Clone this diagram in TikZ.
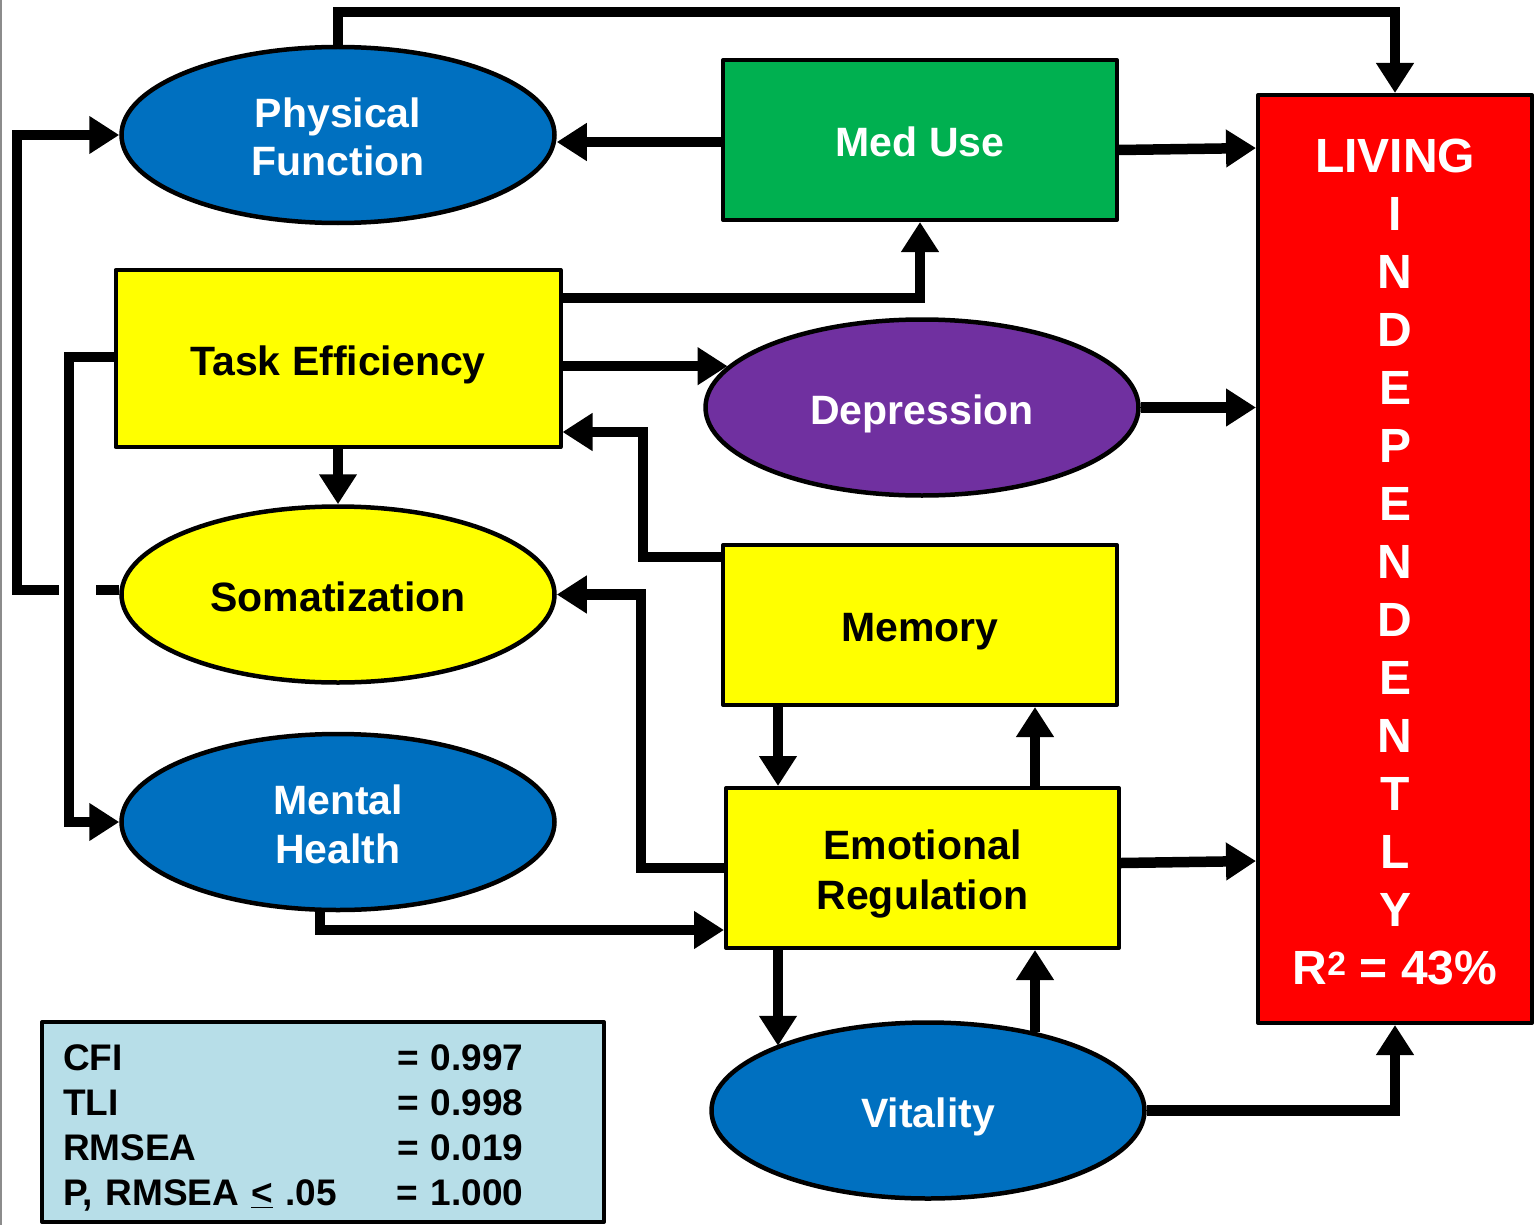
\documentclass[tikz,border=0pt]{standalone}
\usepackage{fontspec}
\setmainfont{Liberation Sans}
\usetikzlibrary{arrows.meta,shapes.geometric,calc}
\definecolor{cblue}{HTML}{0070C0}
\definecolor{cgreen}{HTML}{00B050}
\definecolor{cpurple}{HTML}{7030A0}
\definecolor{cyellow}{HTML}{FFFF00}
\definecolor{cred}{HTML}{FF0000}
\definecolor{cstat}{HTML}{B7DEE8}
\begin{document}
\begin{tikzpicture}[x=1pt,y=-1pt,
 lbl/.style={font=\fontsize{41}{#1}\selectfont\bfseries, align=center, text depth=0.6pt},
 one/.style={lbl=48, text height=34pt},
 two/.style={lbl=#1, text height=#1pt+34pt},
 ell/.style={ellipse, draw=black, line width=4.5pt, minimum width=433pt, minimum height=176pt, inner sep=0pt, text=white},
 box/.style={rectangle, draw=black, line width=4pt, inner sep=0pt, line join=round},
 conn/.style={line width=10.5pt, draw=black},
 arr/.style={conn, -{Triangle[length=30pt,width=36pt]}},
]
\useasboundingbox (0,0) rectangle (1538,1225);
\fill[white] (0,0) rectangle (1538,1225);
\draw[black!45, line width=2pt] (1,0) -- (1,1225);

% nodes
\node[ell, fill=cblue, two=48] (pf) at (338,135) {Physical\\Function};
\node[box, fill=cgreen, text=white, minimum width=394pt, minimum height=160pt, one] (med) at (920,140) {Med Use};
\node[box, fill=cred, text=white, minimum width=274pt, minimum height=928pt, font=\fontsize{48}{58}\selectfont\bfseries, align=center, text height=851pt, text depth=0.6pt] (liv) at (1395,559) {LIVING\\I\\N\\D\\E\\P\\E\\N\\D\\E\\N\\T\\L\\Y\\R\textsuperscript{2} = 43\%};
\node[box, fill=cyellow, minimum width=445pt, minimum height=177pt, one] (te) at (338,358.5) {Task Efficiency};
\node[ell, fill=cpurple, one] (dep) at (922,407.5) {Depression};
\node[ell, fill=cyellow, text=black, one] (som) at (338,594.5) {Somatization};
\node[box, fill=cyellow, minimum width=394pt, minimum height=160pt, one] (mem) at (920,625) {Memory};
\node[ell, fill=cblue, two=49] (mh) at (338,822) {Mental\\Health};
\node[box, fill=cyellow, minimum width=393pt, minimum height=160pt, two=50] (er) at (922.5,868) {Emotional\\Regulation};
\node[ell, fill=cblue, one] (vit) at (928,1110.5) {Vitality};
\node[box, fill=cstat, minimum width=562pt, minimum height=200pt, text width=520pt, align=left, font=\fontsize{37}{45}\selectfont\bfseries, text height=40pt, text depth=143.2pt] (st) at (323,1122) {%
\makebox[334pt][l]{CFI}= 0.997\\
\makebox[334pt][l]{TLI}= 0.998\\
\makebox[334pt][l]{RMSEA}= 0.019\\
\makebox[334pt][l]{P, RMSEA \underline{<} .05}= 1.000};

% connectors
\draw[arr] (pf.north) |- (700,12) -| (liv.north);
\draw[arr] (med.west |- 0,142) -- (pf.east |- 0,142);
\draw[arr] ($(med.east)+(0,10)$) -- ($(med.east -| liv.west)+(0,8)$);
\draw[arr] (te.east |- 0,298) -| (med.south);
\draw[arr] (te.east |- dep.168) -- (dep.168);
\draw[arr] (dep.east) -- (dep.east -| liv.west);
\draw[arr] (mem.west |- 0,557) -| (643,432) -- (te.east |- 0,432);
\draw[arr] (er.west |- 0,868) -| (641,0 |- som.east) -- (som.east);
\draw[arr] (te.south) -- (te.south |- som.north);
\draw[arr] (som.west |- 0,590) -| (17,0 |- pf.west) -- (pf.west);
\fill[white] (59,580) rectangle (96,600);
\draw[arr] (te.west |- 0,357) -| (69,0 |- mh.west) -- (mh.west);
\draw[arr] (320,0 |- mh.south) |- (er.west |- 0,930);
\draw[arr] (778,0 |- mem.south) -- (778,0 |- er.north);
\draw[arr] (1035,0 |- er.north) -- (1035,0 |- mem.south);
\draw[arr] ($(er.east)+(0,-5)$) -- ($(er.east -| liv.west)+(0,-7)$);
\draw[arr] (778,0 |- er.south) -- (778,0 |- vit.157);
\draw[arr] (1035,0 |- vit.36) -- (1035,0 |- er.south);
\draw[arr] (vit.east) -| (liv.south);
\end{tikzpicture}
\end{document}
